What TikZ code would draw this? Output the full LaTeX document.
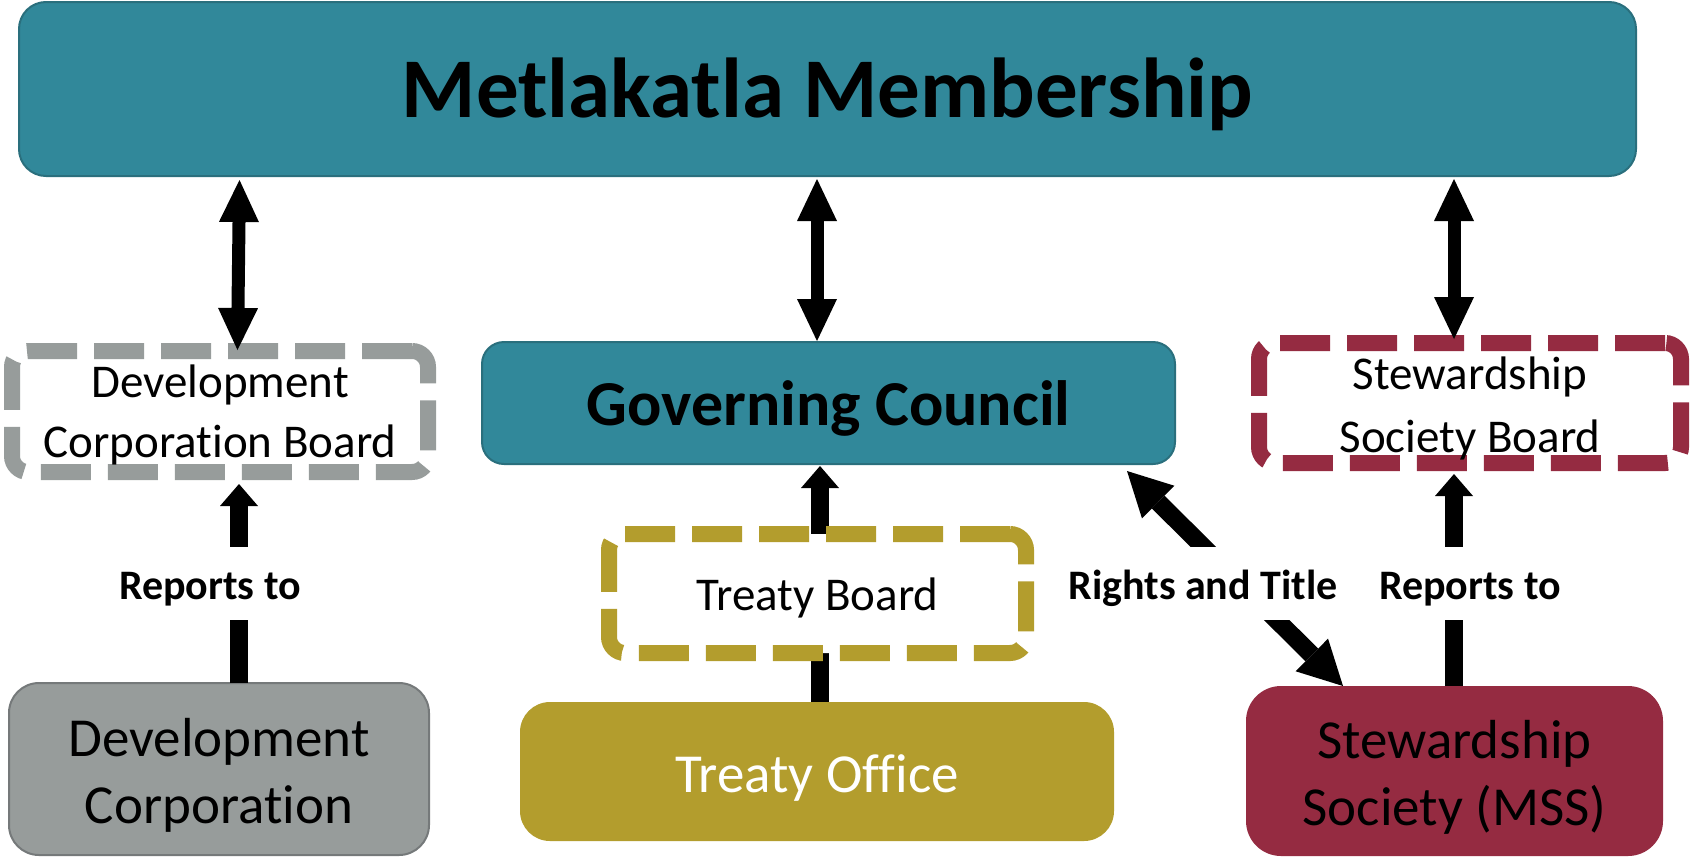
\documentclass[tikz,border=0pt]{standalone}
\usepackage{fontspec}
\setmainfont{Carlito}[Ligatures=NoCommon]
\usetikzlibrary{arrows.meta}

\definecolor{memteal}{HTML}{31889A}
\definecolor{memtealedge}{HTML}{2A6F7D}
\definecolor{devgray}{HTML}{979C9B}
\definecolor{devgrayedge}{HTML}{75797A}
\definecolor{treatygold}{HTML}{B39D2D}
\definecolor{mssred}{HTML}{952B41}

\tikzset{
  solidbox/.style={rectangle, rounded corners=#1, outer sep=0pt, inner sep=0pt, line width=2pt, align=center},
  dashbox/.style={rectangle, rounded corners=16pt, draw=#1, fill=white, line width=16pt,
    dash pattern=on 50pt off 17pt, outer sep=0pt, inner sep=0pt, align=center,
    font=\fontsize{47}{60}\selectfont},
  bigtext/.style={font=\fontsize{55}{67}\selectfont},
  tag/.style={fill=white, inner xsep=4pt, inner ysep=16pt, text height=36pt, text depth=5pt,
    font=\fontsize{42}{50}\selectfont\bfseries},
  dblarrow/.style={line width=13pt,
    {Triangle[length=42pt,width=40pt,line width=0pt]}-{Triangle[length=42pt,width=40pt,line width=0pt]}},
  uparrow/.style={line width=18pt, -{Triangle[length=22pt,width=38pt,line width=0pt]}},
  dbldiag/.style={line width=18pt,
    {Triangle[length=44pt,width=46pt,line width=0pt]}-{Triangle[length=44pt,width=46pt,line width=0pt]}},
}

\begin{document}
\begin{tikzpicture}[x=1pt,y=-1pt]
\useasboundingbox (0,0) rectangle (1691,857);

% top level
\node[solidbox=27pt, fill=memteal, draw=memtealedge, minimum width=1617pt, minimum height=174pt,
  text height=56pt, text depth=0pt, font=\fontsize{85}{100}\selectfont\bfseries]
  (mem) at (827.5,89) {Metlakatla Membership};

% middle row
\node[solidbox=22pt, fill=memteal, draw=memtealedge, minimum width=693pt, minimum height=122pt,
  text height=44pt, text depth=0pt, font=\fontsize{64}{76}\selectfont\bfseries]
  (gc) at (828.5,403) {Governing Council};
\node[dashbox=devgray, minimum width=416pt, minimum height=121pt,
  text height=91pt, text depth=0pt]
  (dcb) at (220,411.5) {Development\\Corporation Board};
\node[dashbox=mssred, minimum width=422pt, minimum height=120pt,
  text height=98pt, text depth=0pt, font=\fontsize{47}{63}\selectfont]
  (ssb) at (1470,403) {Stewardship\\Society Board};

% bottom row
\node[solidbox=30pt, fill=devgray, draw=devgrayedge, minimum width=420pt, minimum height=172pt, bigtext,
  text height=108pt, text depth=0pt]
  (dc) at (219,769) {Development\\Corporation};
\node[solidbox=30pt, fill=treatygold, minimum width=594pt, minimum height=139pt,
  text height=41pt, text depth=0pt, text=white, bigtext]
  (to) at (817,771.5) {Treaty Office};
\node[solidbox=35pt, fill=mssred, minimum width=417pt, minimum height=170pt, bigtext,
  text height=108pt, text depth=0pt]
  (mss) at (1454.5,771) {Stewardship\\Society (MSS)};

% connectors
\draw[dblarrow] ([xshift=-588pt,yshift=-4pt]mem.south) -- ([xshift=17.5pt,yshift=1pt]dcb.north);
\draw[dblarrow] ([xshift=-10.5pt,yshift=-3pt]mem.south) -- ([xshift=-11.5pt,yshift=1pt]gc.north);
\draw[dblarrow] ([xshift=626.5pt,yshift=-3pt]mem.south) -- ([xshift=-16pt,yshift=4pt]ssb.north);
\draw[uparrow] ([xshift=20pt]dc.north) -- ([xshift=19pt,yshift=-12pt]dcb.south);
\draw[uparrow] ([xshift=3pt]to.north) -- ([xshift=-8.5pt,yshift=-2pt]gc.south);
\draw[uparrow] ([xshift=-0.5pt]mss.north) -- ([xshift=-16pt,yshift=-11pt]ssb.south);
\draw[dbldiag] ([xshift=-48pt,yshift=-7pt]gc.south east) -- ([xshift=97pt]mss.north west);

% board sitting over the treaty line
\node[dashbox=treatygold, minimum width=417pt, minimum height=119pt,
  text height=33pt, text depth=0pt]
  (tb) at (817.5,593.5) {Treaty Board};

% connector labels
\node[tag] (rep1) at (210,583.5) {Reports to};
\node[tag] (rt) at (1203,583.5) {Rights and Title};
\node[tag] (rep2) at (1470,583.5) {Reports to};
\end{tikzpicture}
\end{document}
